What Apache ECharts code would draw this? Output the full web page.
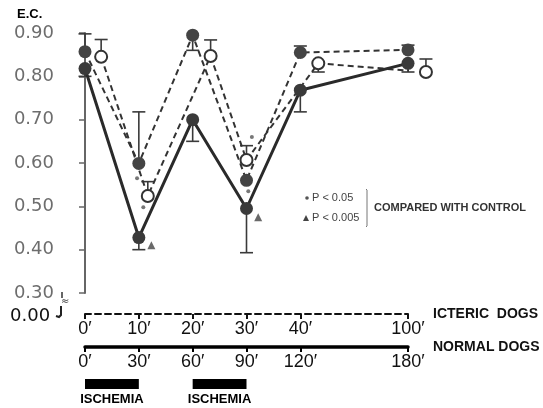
<!DOCTYPE html>
<html><head><meta charset="utf-8">
<script src="https://cdn.jsdelivr.net/npm/echarts@6/dist/echarts.min.js"></script>
<style>html,body{margin:0;padding:0;background:#fff}#c{width:543px;height:408px}</style>
</head><body><div id="c"></div>
<script>
// ---- data ----
const timeTicks = [0, 30, 60, 90, 120, 180];              // normal-dog minutes (axis positions)
const ictericLabels = ["0′", "10′", "20′", "30′", "40′", "100′"];
const normalLabels = ["0′", "30′", "60′", "90′", "120′", "180′"];

// normal dogs (solid line, filled circles)
const normalX = [0, 30, 60, 90, 120, 180];
const normalY = [0.818, 0.428, 0.700, 0.495, 0.768, 0.830];
const normalErr = [0.800, 0.400, 0.650, 0.393, 0.718, 0.810];

// icteric group A (dashed, filled circles)
const icAX = [0, 30, 60, 90, 120, 180];
const icAY = [0.857, 0.599, 0.895, 0.560, 0.855, 0.861];
const icAErr = [0.898, 0.718, 0.860, 0.560, 0.870, 0.872];

// icteric group B (dashed, open circles)
const icBX = [9, 35, 70, 90, 130, 190];
const icBY = [0.845, 0.524, 0.847, 0.607, 0.830, 0.810];
const icBErr = [0.885, 0.557, 0.884, 0.640, 0.810, 0.840];

// significance marks
const starMarks = [[29, 0.565], [32.5, 0.498], [93, 0.660], [91, 0.535]];
const triMarks = [[37, 0.410], [96.5, 0.475]];

// ischemia periods (normal-dog minutes)
const ischemiaSpans = [[0, 30], [60, 90]];

// ---- chart ----
const INK = '#333';
const chart = echarts.init(document.getElementById('c'), null, {renderer: 'canvas'});

function zip(xs, ys) { return xs.map((x, i) => [x, ys[i]]); }
function zip3(xs, ys, es) { return xs.map((x, i) => [x, ys[i], es[i]]); }
function labelFor(arr) {
  return function (v) { const i = timeTicks.indexOf(Math.round(v)); return i >= 0 ? arr[i] : ''; };
}

function errRender(params, api) {
  const p = api.coord([api.value(0), api.value(1)]);
  const e = api.coord([api.value(0), api.value(2)]);
  if (Math.abs(p[1] - e[1]) < 1) return null;
  const st = {stroke: '#3a3a3a', lineWidth: 1.6};
  return {type: 'group', children: [
    {type: 'line', shape: {x1: p[0], y1: p[1], x2: e[0], y2: e[1]}, style: st},
    {type: 'line', shape: {x1: e[0] - 6.5, y1: e[1], x2: e[0] + 6.5, y2: e[1]}, style: st}
  ]};
}

function ischRender(params, api) {
  const a = api.coord([api.value(0), 0.3]);
  const b = api.coord([api.value(1), 0.3]);
  const y0 = a[1];
  return {type: 'group', children: [
    {type: 'rect', shape: {x: a[0], y: y0 + 86, width: b[0] - a[0], height: 10}, style: {fill: '#000'}},
    {type: 'text', style: {x: (a[0] + b[0]) / 2, y: y0 + 106, text: 'ISCHEMIA', align: 'center', verticalAlign: 'middle',
      font: 'bold 13px "Liberation Sans", Arial, sans-serif', fill: '#000'}}
  ]};
}

const tickLabelFont = {fontFamily: '"Liberation Sans", Arial, sans-serif', fontSize: 18, color: '#111'};

const option = {
  animation: false,
  backgroundColor: '#fff',
  grid: {left: 85, right: 135, top: 33, bottom: 115, containLabel: false},
  xAxis: [
    {type: 'value', min: 0, max: 180, show: false},
    {type: 'value', min: 0, max: 180, position: 'bottom', offset: 21,
      axisLine: {show: true, lineStyle: {color: '#111', width: 2, type: [6, 4]}},
      axisTick: {show: true, customValues: timeTicks, length: 5, lineStyle: {color: '#111', width: 2}},
      axisLabel: Object.assign({customValues: timeTicks, margin: 6, formatter: labelFor(ictericLabels)}, tickLabelFont),
      splitLine: {show: false},
      name: 'ICTERIC  DOGS', nameLocation: 'end', nameGap: 25,
      nameTextStyle: {fontFamily: '"Liberation Sans", Arial, sans-serif', fontWeight: 'bold', fontSize: 14, color: '#111', verticalAlign: 'middle', align: 'left'}
    },
    {type: 'value', min: 0, max: 180, position: 'bottom', offset: 54,
      axisLine: {show: true, lineStyle: {color: '#000', width: 3.5}},
      axisTick: {show: true, customValues: timeTicks, length: 5, lineStyle: {color: '#000', width: 2}},
      axisLabel: Object.assign({customValues: timeTicks, margin: 6, formatter: labelFor(normalLabels)}, tickLabelFont),
      splitLine: {show: false},
      name: 'NORMAL DOGS', nameLocation: 'end', nameGap: 25,
      nameTextStyle: {fontFamily: '"Liberation Sans", Arial, sans-serif', fontWeight: 'bold', fontSize: 14, color: '#111', verticalAlign: 'middle', align: 'left'}
    }
  ],
  yAxis: {
    type: 'value', min: 0.3, max: 0.9, interval: 0.1, offset: 23,
    axisLine: {show: true, lineStyle: {color: '#666', width: 2}},
    axisTick: {show: true, length: 6, lineStyle: {color: '#666', width: 1.5}},
    axisLabel: {margin: 8, color: '#6d6d6d', fontFamily: '"DejaVu Sans", sans-serif', fontSize: 18,
      formatter: v => v.toFixed(2)},
    splitLine: {show: false}
  },
  series: [
    {type: 'custom', name: 'errN', xAxisIndex: 0, renderItem: errRender, clip: false, z: 1,
      encode: {x: 0, y: [1, 2]}, data: zip3(normalX, normalY, normalErr)},
    {type: 'custom', name: 'errA', xAxisIndex: 0, renderItem: errRender, clip: false, z: 1,
      encode: {x: 0, y: [1, 2]}, data: zip3(icAX, icAY, icAErr)},
    {type: 'custom', name: 'errB', xAxisIndex: 0, renderItem: errRender, clip: false, z: 1,
      encode: {x: 0, y: [1, 2]}, data: zip3(icBX, icBY, icBErr)},
    {type: 'line', name: 'icteric A', xAxisIndex: 0, data: zip(icAX, icAY), clip: false, z: 3,
      symbol: 'circle', symbolSize: 13, itemStyle: {color: '#444'},
      lineStyle: {color: INK, width: 2, type: [6, 4]}},
    {type: 'line', name: 'icteric B', xAxisIndex: 0, data: zip(icBX, icBY), clip: false, z: 3,
      symbol: 'circle', symbolSize: 12, itemStyle: {color: '#fff', borderColor: INK, borderWidth: 2},
      lineStyle: {color: INK, width: 2, type: [6, 4]}},
    {type: 'line', name: 'normal', xAxisIndex: 0, data: zip(normalX, normalY), clip: false, z: 4,
      symbol: 'circle', symbolSize: 13, itemStyle: {color: '#3a3a3a'},
      lineStyle: {color: '#2a2a2a', width: 3}},
    {type: 'scatter', name: 'p05', xAxisIndex: 0, data: starMarks, symbol: 'circle', symbolSize: 4,
      itemStyle: {color: '#555'}, z: 5},
    {type: 'scatter', name: 'p005', xAxisIndex: 0, data: triMarks, symbol: 'triangle', symbolSize: 8,
      itemStyle: {color: '#444'}, z: 5},
    {type: 'custom', name: 'ischemia', xAxisIndex: 0, renderItem: ischRender, clip: false, z: 2,
      encode: {x: [0, 1]}, data: ischemiaSpans}
  ],
  graphic: [
    {type: 'text', left: 17, top: 8, style: {text: 'E.C.', font: 'bold 13px "Liberation Sans", Arial, sans-serif', fill: '#000'}},
    {type: 'text', left: 10, top: 307, style: {text: '0.00', font: '18px "DejaVu Sans", sans-serif', fill: '#111'}},
    {type: 'polyline', shape: {points: [[62, 292], [62, 298]]}, style: {stroke: '#666', lineWidth: 2, fill: null}},
    {type: 'text', left: 61, top: 296, style: {text: '≈', font: '10px "DejaVu Sans", sans-serif', fill: '#333'}},
    {type: 'polyline', shape: {points: [[61, 306], [61, 315], [59, 317], [56, 316]]}, style: {stroke: '#222', lineWidth: 2, fill: null}},
    // significance legend
    {type: 'circle', shape: {cx: 307, cy: 198, r: 1.8}, style: {fill: '#555'}},
    {type: 'text', left: 312, top: 192, style: {text: 'P < 0.05', font: '11px "Liberation Sans", Arial, sans-serif', fill: '#444'}},
    {type: 'polygon', shape: {points: [[303, 221], [309, 221], [306, 215]]}, style: {fill: '#444'}},
    {type: 'text', left: 312, top: 212, style: {text: 'P < 0.005', font: '11px "Liberation Sans", Arial, sans-serif', fill: '#444'}},
    {type: 'polyline', shape: {points: [[366, 189], [367, 190], [367, 226], [366, 227]]}, style: {stroke: '#777', lineWidth: 1, fill: null}},
    {type: 'text', left: 374, top: 202, style: {text: 'COMPARED WITH CONTROL', font: 'bold 11px "Liberation Sans", Arial, sans-serif', fill: '#333'}}
  ]
};
chart.setOption(option);
</script>
</body></html>
